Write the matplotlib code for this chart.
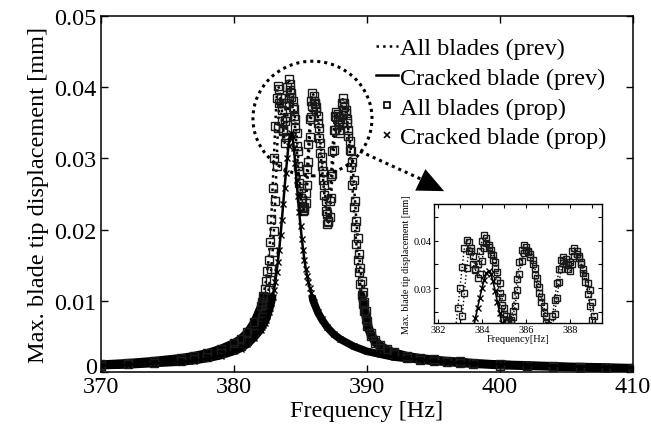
import matplotlib
matplotlib.use("Agg")
import matplotlib.pyplot as plt
import matplotlib.transforms as mtransforms
import numpy as np
from matplotlib.lines import Line2D
from matplotlib.patches import Ellipse
from matplotlib.ticker import FuncFormatter, MultipleLocator

plt.rcParams["font.family"] = ["Liberation Serif", "DejaVu Serif"]

# frequency sweep [Hz] shared by the two blade responses
freq_low = [370, 372, 374, 376, 377, 378, 379, 380, 380.5, 381, 381.5]
freq_sweep = [
    382.0, 382.1, 382.2, 382.3, 382.4, 382.5, 382.6, 382.7, 382.8, 382.9,
    383.0, 383.1, 383.2, 383.3, 383.4, 383.5, 383.6, 383.7, 383.8, 383.9,
    384.0, 384.1, 384.2, 384.3, 384.4, 384.5, 384.6, 384.7, 384.8, 384.9,
    385.0, 385.1, 385.2, 385.3, 385.4, 385.5, 385.6, 385.7, 385.8, 385.9,
    386.0, 386.1, 386.2, 386.3, 386.4, 386.5, 386.6, 386.7, 386.8, 386.9,
    387.0, 387.1, 387.2, 387.3, 387.4, 387.5, 387.6, 387.7, 387.8, 387.9,
    388.0, 388.1, 388.2, 388.3, 388.4, 388.5, 388.6, 388.7, 388.8, 388.9,
    389.0, 389.1, 389.2, 389.3, 389.4, 389.5, 389.6, 389.7, 389.8, 389.9,
]
freq_high = [390.0, 390.3, 390.6, 391, 391.5, 392, 393, 394, 395, 396, 397, 398,
             400, 402, 404, 406, 408, 410]
freq = freq_low + freq_sweep + freq_high

# max. tip displacement of two representative blades [mm]
blade_a = [
    0.0011, 0.0013, 0.0016, 0.0020, 0.0023, 0.0027, 0.0033, 0.0041, 0.0047, 0.0056, 0.0070,
    0.0092, 0.0099, 0.0107, 0.0117, 0.0128, 0.0142, 0.0158, 0.0182, 0.0215, 0.0258,
    0.0300, 0.0345, 0.0385, 0.0402, 0.0398, 0.0378, 0.0352, 0.0338, 0.0352, 0.0378,
    0.0400, 0.0412, 0.0405, 0.0386, 0.0372, 0.0360, 0.0342, 0.0318, 0.0290, 0.0265,
    0.0245, 0.0232, 0.0226, 0.0232, 0.0252, 0.0285, 0.0320, 0.0355, 0.0380, 0.0392,
    0.0388, 0.0378, 0.0366, 0.0350, 0.0328, 0.0308, 0.0290, 0.0270, 0.0248, 0.0226,
    0.0208, 0.0212, 0.0240, 0.0275, 0.0310, 0.0340, 0.0360, 0.0365, 0.0352, 0.0340,
    0.0355, 0.0378, 0.0385, 0.0378, 0.0368, 0.0355, 0.0340, 0.0325, 0.0310, 0.0295,
    0.0270, 0.0240, 0.0212, 0.0188, 0.0166, 0.0146, 0.0128, 0.0112, 0.0098, 0.0086,
    0.0072, 0.0055, 0.0045, 0.0038, 0.0032, 0.0028, 0.0023, 0.0020, 0.0018, 0.0016,
    0.0015, 0.0013, 0.0011, 0.0009, 0.0008, 0.0007, 0.0006, 0.0005,
]
blade_b = [
    0.0009, 0.0011, 0.0013, 0.0016, 0.0018, 0.0021, 0.0026, 0.0032, 0.0037, 0.0044, 0.0055,
    0.0072, 0.0077, 0.0083, 0.0089, 0.0096, 0.0105, 0.0115, 0.0129, 0.0145, 0.0168,
    0.0198, 0.0240, 0.0290, 0.0342, 0.0378, 0.0385, 0.0368, 0.0340, 0.0322, 0.0330,
    0.0358, 0.0385, 0.0396, 0.0392, 0.0380, 0.0370, 0.0355, 0.0335, 0.0310, 0.0282,
    0.0258, 0.0240, 0.0230, 0.0228, 0.0238, 0.0262, 0.0295, 0.0330, 0.0358, 0.0374,
    0.0380, 0.0376, 0.0372, 0.0360, 0.0342, 0.0322, 0.0302, 0.0282, 0.0262, 0.0240,
    0.0222, 0.0210, 0.0218, 0.0245, 0.0278, 0.0312, 0.0340, 0.0358, 0.0362, 0.0348,
    0.0336, 0.0350, 0.0368, 0.0372, 0.0364, 0.0350, 0.0332, 0.0312, 0.0288, 0.0262,
    0.0232, 0.0204, 0.0180, 0.0158, 0.0140, 0.0123, 0.0108, 0.0095, 0.0085, 0.0075,
    0.0064, 0.0050, 0.0041, 0.0034, 0.0029, 0.0025, 0.0020, 0.0017, 0.0015, 0.0014,
    0.0012, 0.0011, 0.0009, 0.0008, 0.0007, 0.0006, 0.0005, 0.0004,
]

# cracked blade
crack_freq = [
    370, 372, 374, 376, 377, 378, 379, 380, 380.5, 381, 381.5,
    382.0, 382.1, 382.2, 382.3, 382.4, 382.5, 382.6, 382.7, 382.8, 382.9,
    383.0, 383.1, 383.2, 383.3, 383.4, 383.5, 383.6, 383.7, 383.8, 383.9,
    384.0, 384.1, 384.2, 384.3, 384.4, 384.5, 384.6, 384.7, 384.8, 384.9,
    385.0, 385.1, 385.2, 385.3, 385.4, 385.5, 385.6, 385.7, 385.8, 385.9,
    386.0, 386.3, 386.6, 387.0, 387.5, 388, 389, 390, 391, 392, 394, 396, 398,
    400, 402, 405, 408, 410,
]
crack_amp = [
    0.0009, 0.0010, 0.0012, 0.0014, 0.0016, 0.0019, 0.0023, 0.0029, 0.0033, 0.0039, 0.0048,
    0.0059, 0.0063, 0.0066, 0.0069, 0.0073, 0.0078, 0.0084, 0.0090, 0.0097, 0.0105,
    0.0115, 0.0126, 0.0140, 0.0155, 0.0172, 0.0192, 0.0214, 0.0236, 0.0258, 0.0280,
    0.0300, 0.0318, 0.0331, 0.0336, 0.0330, 0.0314, 0.0294, 0.0270, 0.0247, 0.0225,
    0.0205, 0.0187, 0.0171, 0.0157, 0.0145, 0.0135, 0.0126, 0.0118, 0.0111, 0.0104,
    0.0098, 0.0084, 0.0074, 0.0063, 0.0053, 0.0046, 0.0036, 0.0029, 0.0025, 0.0021,
    0.0017, 0.0014, 0.0012, 0.0011, 0.0010, 0.0008, 0.0007, 0.0006,
]

legend_labels = ["All blades (prev)", "Cracked blade (prev)",
                 "All blades (prop)", "Cracked blade (prop)"]

INK = "black"
DOTS = (0, (1, 1.3))


def draw_responses(axis, sq_size, x_size, dot_lw, solid_lw, band_lw=None):
    series = [(freq, blade_a), (freq, blade_b), (crack_freq, crack_amp)]
    if band_lw:
        # far from resonance the sweep markers pile up into a solid band
        for f, a in series:
            a = np.asarray(a)
            axis.plot(f, np.where(a < 0.011, a, np.nan), "-", color=INK,
                      lw=band_lw, solid_capstyle="round", zorder=2)
    for f, a in series[:2]:
        axis.plot(f, a, linestyle=":", color=INK, lw=dot_lw, zorder=3)
        axis.plot(f, a, linestyle="none", marker="s", ms=sq_size, mfc="none",
                  mec="#1a1a1a", mew=1.0, zorder=4)
    axis.plot(crack_freq, crack_amp, "-", color=INK, lw=solid_lw, zorder=5)
    axis.plot(crack_freq, crack_amp, linestyle="none", marker="x", ms=x_size,
              mec=INK, mew=1.0, zorder=6)


fig = plt.figure(figsize=(6.51, 4.31), dpi=100)
ax = fig.add_axes([101 / 651, 58 / 431, 532 / 651, 356 / 431])
draw_responses(ax, sq_size=5.2, x_size=4.5, dot_lw=1.8, solid_lw=1.8, band_lw=5.5)

ax.set_xlim(370, 410)
ax.set_ylim(0, 0.05)
ax.set_xticks([370, 380, 390, 400, 410])
ax.set_yticks([0, 0.01, 0.02, 0.03, 0.04, 0.05])
ax.yaxis.set_major_formatter(FuncFormatter(lambda v, p: "%g" % round(v, 4)))
ax.tick_params(direction="in", length=5, width=1, top=True, right=True,
               labelsize=17.5, pad=3)
for s in ax.spines.values():
    s.set_linewidth(1.1)
ax.set_xlabel("Frequency [Hz]", fontsize=17.5, labelpad=2)
ax.set_ylabel("Max. blade tip displacement [mm]", fontsize=17.5, labelpad=4)

# lift the "0" label clear of the "370" below it
fig.canvas.draw()
zero_label = ax.get_yticklabels()[0]
zero_label.set_transform(zero_label.get_transform()
                         + mtransforms.ScaledTranslation(0, 5 / 72, fig.dpi_scale_trans))

# highlight of the resonance cluster
ax.add_patch(Ellipse((385.9, 0.0356), 8.95, 0.0161, fill=False, ec=INK,
                     lw=2.2, linestyle=DOTS, zorder=7))
ax.plot([389.47, 394.4], [0.0310, 0.0268], color=INK, lw=2.2,
        linestyle=DOTS, zorder=7)
ax.annotate("", xy=(395.8, 0.0254), xytext=(389.47, 0.0310),
            arrowprops=dict(arrowstyle="-|>,head_length=1.0,head_width=0.45",
                            color=INK, lw=0, mutation_scale=19,
                            shrinkA=0, shrinkB=0), zorder=7)

handles = [
    Line2D([], [], linestyle=":", color=INK, lw=1.8),
    Line2D([], [], linestyle="-", color=INK, lw=1.8),
    Line2D([], [], linestyle="none", marker="s", ms=4, mfc="none", mec=INK, mew=1.2),
    Line2D([], [], linestyle="none", marker="x", ms=4, mec=INK, mew=1.2),
]
fig.legend(handles, legend_labels, loc="upper left",
           bbox_to_anchor=(376 / 651, 1 - 38 / 431), frameon=False,
           fontsize=17.5, handlelength=0.9, handletextpad=0.1,
           labelspacing=0.32, borderpad=0, borderaxespad=0)

# zoomed inset
ax_in = fig.add_axes([434 / 651, 1 - 324 / 431, 168 / 651, 119 / 431])
ax_in.set_facecolor("white")
draw_responses(ax_in, sq_size=4.3, x_size=4.0, dot_lw=1.0, solid_lw=1.2)
ax_in.set_xlim(381.82, 389.45)
ax_in.set_ylim(0.0226, 0.0478)
ax_in.set_xticks([382, 384, 386, 388])
ax_in.set_yticks([0.03, 0.04])
ax_in.xaxis.set_minor_locator(MultipleLocator(1))
ax_in.yaxis.set_minor_locator(MultipleLocator(0.005))
ax_in.yaxis.set_major_formatter(FuncFormatter(lambda v, p: "%g" % round(v, 4)))
ax_in.tick_params(which="both", direction="in", top=True, right=True,
                  labelsize=7.5, pad=1.5, width=0.8, length=3)
for s in ax_in.spines.values():
    s.set_linewidth(1.0)
ax_in.set_xlabel("Frequency[Hz]", fontsize=7.5, labelpad=0)
ax_in.set_ylabel("Max. blade tip displacement [mm]", fontsize=7.2, labelpad=2)

fig.savefig("out.png", dpi=100)
